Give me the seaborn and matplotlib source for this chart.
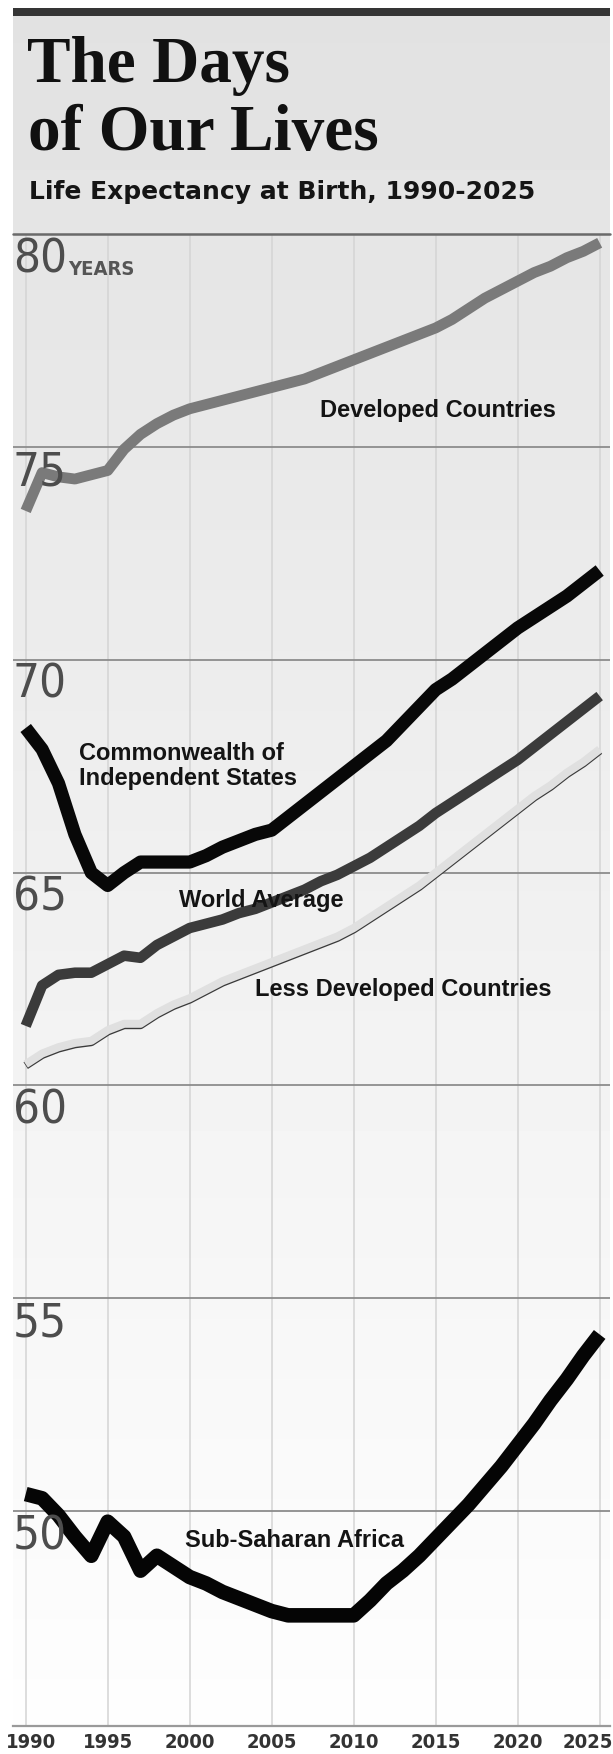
import os
import numpy as np
import pandas as pd
import matplotlib
matplotlib.use('Agg')
import matplotlib.pyplot as plt
import matplotlib.patheffects as pe
import matplotlib.font_manager as fm
import matplotlib.transforms as mtransforms
from matplotlib.font_manager import FontProperties
from matplotlib.patches import Rectangle
import seaborn as sns

years = list(range(1990, 2026))
developed = [73.5, 74.4, 74.3, 74.25, 74.35, 74.45, 74.95, 75.3, 75.55, 75.75,
             75.9, 76.0, 76.1, 76.2, 76.3, 76.4, 76.5, 76.6, 76.75, 76.9,
             77.05, 77.2, 77.35, 77.5, 77.65, 77.8, 78.0, 78.25, 78.5, 78.7,
             78.9, 79.1, 79.25, 79.45, 79.6, 79.8]
cis = [68.4, 67.9, 67.1, 65.9, 65.0, 64.7, 65.0, 65.25, 65.25, 65.25,
       65.25, 65.4, 65.6, 65.75, 65.9, 66.0, 66.3, 66.6, 66.9, 67.2,
       67.5, 67.8, 68.1, 68.5, 68.9, 69.3, 69.55, 69.85, 70.15, 70.45,
       70.75, 71.0, 71.25, 71.5, 71.8, 72.1]
world = [61.4, 62.35, 62.6, 62.65, 62.65, 62.85, 63.05, 63.0, 63.3, 63.5,
         63.7, 63.8, 63.9, 64.05, 64.15, 64.3, 64.45, 64.6, 64.8, 64.95,
         65.15, 65.35, 65.6, 65.85, 66.1, 66.4, 66.65, 66.9, 67.15, 67.4,
         67.65, 67.95, 68.25, 68.55, 68.85, 69.15]
less_dev = [60.5, 60.75, 60.9, 61.0, 61.05, 61.3, 61.45, 61.45, 61.7, 61.9,
            62.05, 62.25, 62.45, 62.6, 62.75, 62.9, 63.05, 63.2, 63.35, 63.5,
            63.7, 63.95, 64.2, 64.45, 64.7, 65.0, 65.3, 65.6, 65.9, 66.2,
            66.5, 66.8, 67.05, 67.35, 67.6, 67.9]
africa = [50.4, 50.3, 49.9, 49.4, 48.95, 49.75, 49.4, 48.6, 48.95, 48.7,
          48.45, 48.3, 48.1, 47.95, 47.8, 47.65, 47.55, 47.55, 47.55, 47.55,
          47.55, 47.9, 48.3, 48.6, 48.95, 49.35, 49.75, 50.15, 50.6, 51.05,
          51.55, 52.05, 52.6, 53.1, 53.65, 54.15]

y_ticks = [50, 55, 60, 65, 70, 75, 80]
x_ticks = [1990, 1995, 2000, 2005, 2010, 2015, 2020, 2025]

sns.set_theme(style='white')
names = {f.name for f in fm.fontManager.ttflist}
SANS = 'Liberation Sans' if 'Liberation Sans' in names else 'DejaVu Sans'
SERIF = 'Liberation Serif' if 'Liberation Serif' in names else 'DejaVu Serif'
plt.rcParams['font.family'] = [SANS, 'DejaVu Sans']

files = [f.fname for f in fm.fontManager.ttflist]


def pick(patterns):
    for p in patterns:
        for fn in files:
            if os.path.basename(fn).lower() == p.lower():
                return fn
    for p in patterns:
        for fn in files:
            if p.lower().split('.')[0] in os.path.basename(fn).lower():
                return fn
    return None


cond_reg = pick(['LiberationSansNarrow-Regular.ttf', 'DejaVuSansCondensed.ttf',
                 'NotoSans-Condensed.ttf', 'RobotoCondensed-Regular.ttf',
                 'Roboto-Regular.ttf', 'DejaVuSans.ttf'])
cond_bold = pick(['LiberationSansNarrow-Bold.ttf', 'DejaVuSansCondensed-Bold.ttf',
                  'NotoSans-CondensedBold.ttf', 'RobotoCondensed-Bold.ttf',
                  'Roboto-Bold.ttf', 'DejaVuSans-Bold.ttf'])


def cfont(size, bold=False):
    fn = cond_bold if bold else cond_reg
    if fn:
        return FontProperties(fname=fn, size=size)
    return FontProperties(family='DejaVu Sans', size=size,
                          weight='bold' if bold else 'normal')


W, H = 613, 1754
fig = plt.figure(figsize=(W / 100, H / 100), dpi=100)
fig.patch.set_facecolor('white')


def fx(px):
    return px / W


def fy(py):
    return 1 - py / H


# background panel with a vertical gradient
bg = fig.add_axes([fx(13), fy(1726), fx(610) - fx(13), fy(16) - fy(1726)])
grad = np.linspace(0.885, 0.995, 256)[:, None]
bg.imshow(grad, aspect='auto', cmap='gray', vmin=0, vmax=1, extent=[0, 1, 0, 1])
bg.axis('off')

fig.add_artist(Rectangle((fx(13), fy(16)), fx(610) - fx(13), fy(8) - fy(16),
                         transform=fig.transFigure, color='#353535', lw=0))

# titles
fig.text(fx(27), fy(82), 'The Days', family=SERIF, weight='bold', fontsize=47,
         color='#111111', va='baseline', ha='left')
fig.text(fx(28), fy(150), 'of Our Lives', family=SERIF, weight='bold', fontsize=47,
         color='#111111', va='baseline', ha='left')
fig.text(fx(29), fy(199), 'Life Expectancy at Birth, 1990-2025', family='DejaVu Sans',
         weight='bold', fontsize=18, color='#151515', va='baseline', ha='left')

ax = fig.add_axes([fx(13), fy(1726), fx(610) - fx(13), fy(234.3) - fy(1726)])
ax.patch.set_alpha(0)
ax.set_xlim(1989.226, 2025.63)
ax.set_ylim(44.95, 80)

for v in y_ticks:
    if v == 80:
        ax.axhline(v, color='#6a6a6a', lw=1.8, zorder=1, clip_on=False)
    else:
        ax.axhline(v, color='#8c8c8c', lw=1.3, zorder=1)
for x in x_ticks:
    ax.axvline(x, color='#d4d4d4', lw=1.1, zorder=0.5)

series = [
    (developed, '#7a7a7a', 7.8, None),
    (less_dev, '#e0e0e0', 5.8, 'shadow'),
    (world, '#3b3b3b', 7.6, None),
    (cis, '#080808', 9.5, None),
    (africa, '#050505', 10.5, None),
]
for vals, col, lw, eff in series:
    sns.lineplot(x=years, y=vals, ax=ax, color=col, linewidth=lw,
                 solid_capstyle='butt', solid_joinstyle='round', clip_on=False, zorder=2)
    if eff == 'shadow':
        ax.lines[-1].set_path_effects([
            pe.SimpleLineShadow(offset=(0, -1.0), shadow_color='#3a3a3a', alpha=1.0, rho=1),
            pe.Normal()])

# y labels
for v in y_ticks:
    ax.annotate(str(v), xy=(0, v), xycoords=('axes fraction', 'data'),
                xytext=(0, -3), textcoords='offset pixels', ha='left', va='top',
                fontproperties=cfont(34), color='#4d4d4d', zorder=5)
ax.annotate('YEARS', xy=(0, 80), xycoords=('axes fraction', 'data'),
            xytext=(55, -40.7), textcoords='offset pixels', ha='left', va='baseline',
            fontproperties=cfont(14.5, bold=True), color='#555555', zorder=5)

lab = dict(fontsize=17, weight='bold', color='#141414', family=SANS,
           ha='left', va='baseline', zorder=5)
ax.text(2007.95, 75.71, 'Developed Countries', **lab)
ax.text(1993.23, 67.06, 'Commonwealth of\nIndependent States', linespacing=1.1, **lab)
ax.text(1999.35, 64.20, 'World Average', **lab)
ax.text(2003.98, 62.10, 'Less Developed Countries', **lab)
ax.text(1999.71, 49.16, 'Sub-Saharan Africa', **lab)

ax.set_xticks(x_ticks)
ax.set_xticklabels([str(x) for x in x_ticks])
ax.set_yticks([])
ax.tick_params(axis='x', length=0, pad=5, labelcolor='#333333')
for t in ax.get_xticklabels():
    t.set_fontproperties(cfont(14.5, bold=True))
ticklabs = ax.get_xticklabels()
ticklabs[0].set_transform(ticklabs[0].get_transform() +
                          mtransforms.ScaledTranslation(0.05, 0, fig.dpi_scale_trans))
ticklabs[-1].set_transform(ticklabs[-1].get_transform() +
                           mtransforms.ScaledTranslation(-0.12, 0, fig.dpi_scale_trans))
for s in ['top', 'left', 'right']:
    ax.spines[s].set_visible(False)
ax.spines['bottom'].set_color('#9a9a9a')
ax.spines['bottom'].set_linewidth(1.6)
ax.set_xlabel('')
ax.set_ylabel('')

fig.savefig('out.png', dpi=100)
